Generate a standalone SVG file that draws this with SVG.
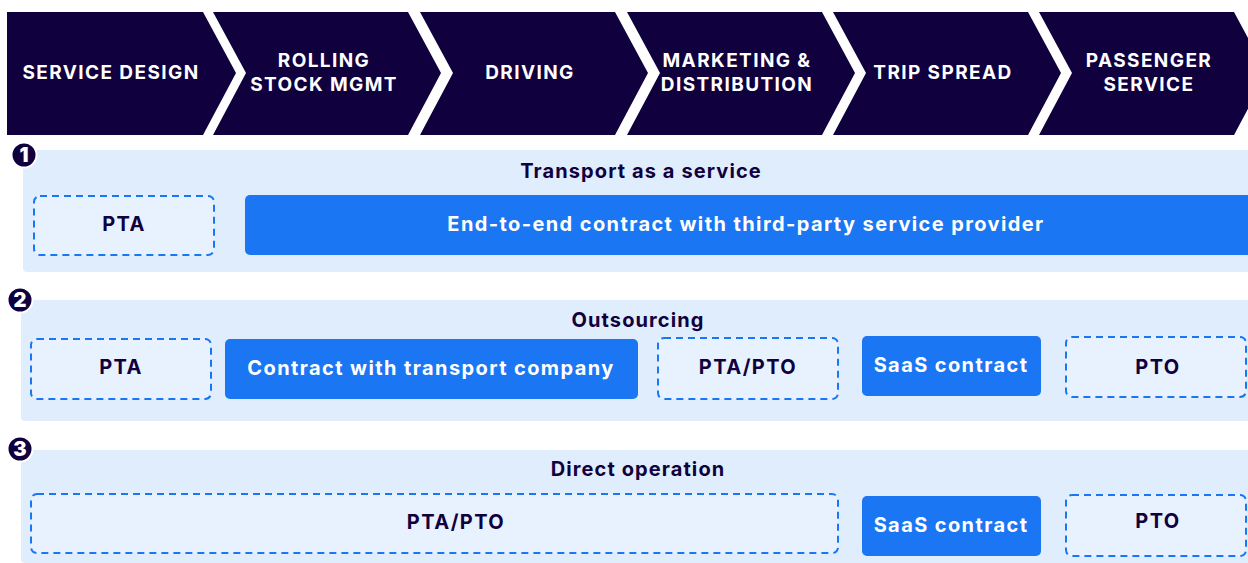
<svg xmlns="http://www.w3.org/2000/svg" width="1248" height="563" viewBox="0 0 1248 563">
  <style>
    .chev { fill: #10003e; }
    .chevText { fill: #ffffff; font-family: Inter, "Liberation Sans", sans-serif; font-weight: 700; font-size: 19px; letter-spacing: 1.4px; text-anchor: middle; }
    .panel { fill: #e0edfc; }
    .title { fill: #10003e; font-family: Inter, "Liberation Sans", sans-serif; font-weight: 700; font-size: 20px; letter-spacing: 1.1px; text-anchor: middle; }
    .dash { fill: #e8f2fe; stroke: #1a76f2; stroke-width: 2; stroke-dasharray: 7 5; }
    .solid { fill: #1a76f2; }
    .dark { fill: #10003e; font-family: Inter, "Liberation Sans", sans-serif; font-weight: 700; font-size: 20px; letter-spacing: 1.4px; text-anchor: middle; }
    .light { fill: #ffffff; font-family: Inter, "Liberation Sans", sans-serif; font-weight: 700; font-size: 20px; letter-spacing: 1.4px; text-anchor: middle; }
    .badge { fill: #10003e; stroke: #ffffff; stroke-width: 2; }
    .badgeText { fill: #ffffff; font-family: Inter, "Liberation Sans", sans-serif; font-weight: 900; font-size: 20px; text-anchor: middle; }
  </style>

  <!-- value chain header -->
  <g id="stage-service-design">
    <path class="chev" d="M7,12 H203 L236,73 L203,135 H7 Z"/>
    <text class="chevText" x="111" y="79">SERVICE DESIGN</text>
  </g>
  <g id="stage-rolling-stock">
    <path class="chev" d="M213,12 H408 L441,73 L408,135 H213 L246,73 Z"/>
    <text class="chevText" x="324" y="67">ROLLING</text>
    <text class="chevText" x="324" y="91">STOCK MGMT</text>
  </g>
  <g id="stage-driving">
    <path class="chev" d="M420,12 H615 L648,73 L615,135 H420 L453,73 Z"/>
    <text class="chevText" x="530" y="79">DRIVING</text>
  </g>
  <g id="stage-marketing">
    <path class="chev" d="M627,12 H822 L855,73 L822,135 H627 L660,73 Z"/>
    <text class="chevText" x="737" y="67">MARKETING &amp;</text>
    <text class="chevText" x="737" y="91">DISTRIBUTION</text>
  </g>
  <g id="stage-trip-spread">
    <path class="chev" d="M833,12 H1028 L1061,73 L1028,135 H833 L866,73 Z"/>
    <text class="chevText" x="943" y="79">TRIP SPREAD</text>
  </g>
  <g id="stage-passenger-service">
    <path class="chev" d="M1039,12 H1234 L1267,73 L1234,135 H1039 L1072,73 Z"/>
    <text class="chevText" x="1149" y="67">PASSENGER</text>
    <text class="chevText" x="1149" y="91">SERVICE</text>
  </g>

  <!-- model 1: transport as a service -->
  <g id="model-1">
    <rect class="panel" x="23" y="150" width="1240" height="122" rx="4"/>
    <text class="title" x="641" y="178">Transport as a service</text>
  </g>
  <g id="badge-1">
    <circle class="badge" cx="24" cy="155" r="12.5"/>
    <text class="badgeText" x="24" y="162">1</text>
  </g>
  <g id="m1-pta">
    <rect class="dash" x="34" y="196" width="180" height="59" rx="6"/>
    <text class="dark" x="124" y="231">PTA</text>
  </g>
  <g id="m1-end-to-end">
    <rect class="solid" x="245" y="195" width="1010" height="60" rx="5"/>
    <text class="light" x="746" y="231">End-to-end contract with third-party service provider</text>
  </g>

  <!-- model 2: outsourcing -->
  <g id="model-2">
    <rect class="panel" x="21" y="300" width="1240" height="121" rx="4"/>
    <text class="title" x="638" y="327">Outsourcing</text>
  </g>
  <g id="badge-2">
    <circle class="badge" cx="20" cy="300" r="12.5"/>
    <text class="badgeText" x="20" y="307">2</text>
  </g>
  <g id="m2-pta">
    <rect class="dash" x="31" y="339" width="180" height="60" rx="6"/>
    <text class="dark" x="121" y="374">PTA</text>
  </g>
  <g id="m2-transport-contract">
    <rect class="solid" x="225" y="339" width="413" height="60" rx="5"/>
    <text class="light" x="431" y="375">Contract with transport company</text>
  </g>
  <g id="m2-pta-pto">
    <rect class="dash" x="658" y="338" width="180" height="61" rx="6"/>
    <text class="dark" x="748" y="374">PTA/PTO</text>
  </g>
  <g id="m2-saas">
    <rect class="solid" x="862" y="336" width="179" height="60" rx="5"/>
    <text class="light" x="951" y="372">SaaS contract</text>
  </g>
  <g id="m2-pto">
    <rect class="dash" x="1066" y="337" width="180" height="60" rx="6"/>
    <text class="dark" x="1158" y="374">PTO</text>
  </g>

  <!-- model 3: direct operation -->
  <g id="model-3">
    <rect class="panel" x="21" y="450" width="1240" height="113" rx="4"/>
    <text class="title" x="638" y="476">Direct operation</text>
  </g>
  <g id="badge-3">
    <circle class="badge" cx="20" cy="449" r="12.5"/>
    <text class="badgeText" x="20" y="456">3</text>
  </g>
  <g id="m3-pta-pto">
    <rect class="dash" x="31" y="494" width="807" height="59" rx="6"/>
    <text class="dark" x="456" y="529">PTA/PTO</text>
  </g>
  <g id="m3-saas">
    <rect class="solid" x="862" y="496" width="179" height="60" rx="5"/>
    <text class="light" x="951" y="532">SaaS contract</text>
  </g>
  <g id="m3-pto">
    <rect class="dash" x="1066" y="495" width="180" height="61" rx="6"/>
    <text class="dark" x="1158" y="528">PTO</text>
  </g>
</svg>
